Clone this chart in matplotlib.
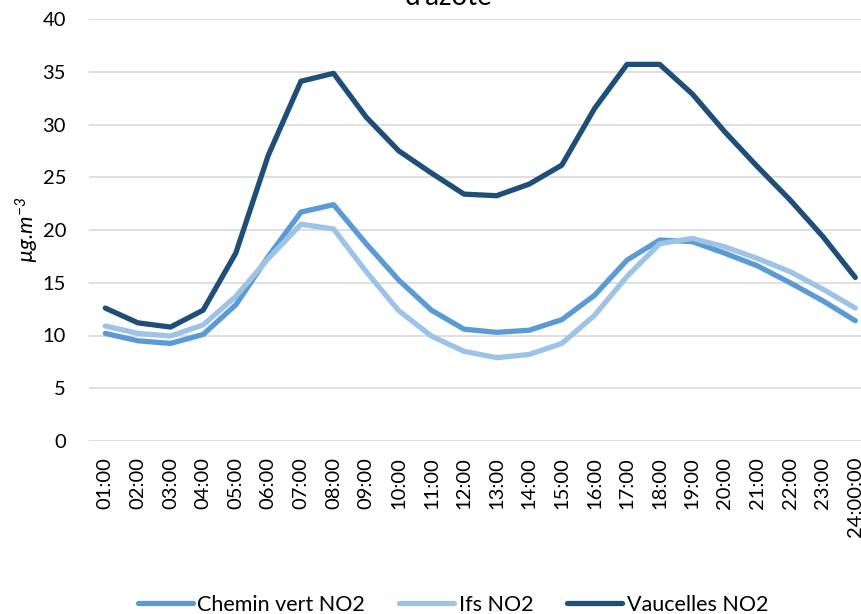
import matplotlib
matplotlib.use("Agg")
import matplotlib.pyplot as plt

########## Data ##########

hours = [f"{h:02d}:00" for h in range(1, 24)] + ["24:00:00"]

chemin_vert = [10.2, 9.5, 9.25, 10.1, 12.9, 17.5, 21.7, 22.4, 18.7, 15.25, 12.4, 10.6,
               10.3, 10.5, 11.5, 13.8, 17.15, 19.05, 18.9, 17.8, 16.6, 15.0, 13.3, 11.4]
ifs = [10.9, 10.2, 9.95, 11.0, 13.7, 17.3, 20.55, 20.1, 16.05, 12.35, 9.95, 8.5,
       7.9, 8.2, 9.25, 11.9, 15.6, 18.7, 19.2, 18.4, 17.3, 16.05, 14.4, 12.6]
vaucelles = [12.6, 11.2, 10.8, 12.4, 17.8, 27.1, 34.1, 34.85, 30.7, 27.5, 25.4, 23.4,
             23.25, 24.35, 26.15, 31.5, 35.7, 35.7, 32.9, 29.3, 26.0, 22.85, 19.4, 15.5]

series = [
    ("Chemin vert NO2", chemin_vert, "#5B9BD5"),
    ("Ifs NO2", ifs, "#9DC3E6"),
    ("Vaucelles NO2", vaucelles, "#1F4E79"),
]

###########################

plt.rcParams["font.family"] = ["Lato", "DejaVu Sans"]
plt.rcParams["mathtext.fontset"] = "custom"
plt.rcParams["mathtext.it"] = "Lato:italic"
plt.rcParams["mathtext.rm"] = "Lato:italic"

fig = plt.figure(figsize=(8.62, 6.14), dpi=100)
ax = fig.add_axes([89 / 862, 173 / 614, 782.6 / 862, 422 / 614])

x = list(range(len(hours)))
for name, vals, color in series:
    ax.plot(x, vals, color=color, lw=3.8, label=name,
            solid_capstyle="round", solid_joinstyle="round", zorder=3)

ax.set_xlim(-0.5, len(hours) - 0.5)
ax.set_ylim(0, 40)
ax.set_yticks(range(0, 41, 5))
ax.set_xticks(x)
ax.set_xticklabels(hours, rotation=90)
ax.tick_params(axis="both", length=0, labelsize=14.5, colors="black")
ax.tick_params(axis="y", pad=16.5)
ax.tick_params(axis="x", pad=11.5)

ax.grid(axis="y", color="#D9D9D9", lw=1.2, zorder=0)
for s in ax.spines.values():
    s.set_visible(False)
ax.set_axisbelow(True)

fig.text(27 / 862, 1 - 230 / 614, "µg.m$^{-3}$", rotation=90, fontsize=16,
         fontstyle="italic", ha="center", va="center")

# title is cut by the top edge, only the second line shows
fig.text(449 / 862, 1 - 5 / 614, "d'azote", fontsize=20, ha="center", va="baseline")

fig.legend(loc="center", bbox_to_anchor=(453 / 862, 1 - 605 / 614), ncol=3,
           frameon=False, fontsize=15.5, handlelength=2.55, handletextpad=0.2,
           columnspacing=1.6, borderaxespad=0)

fig.savefig("out.png", dpi=100)
